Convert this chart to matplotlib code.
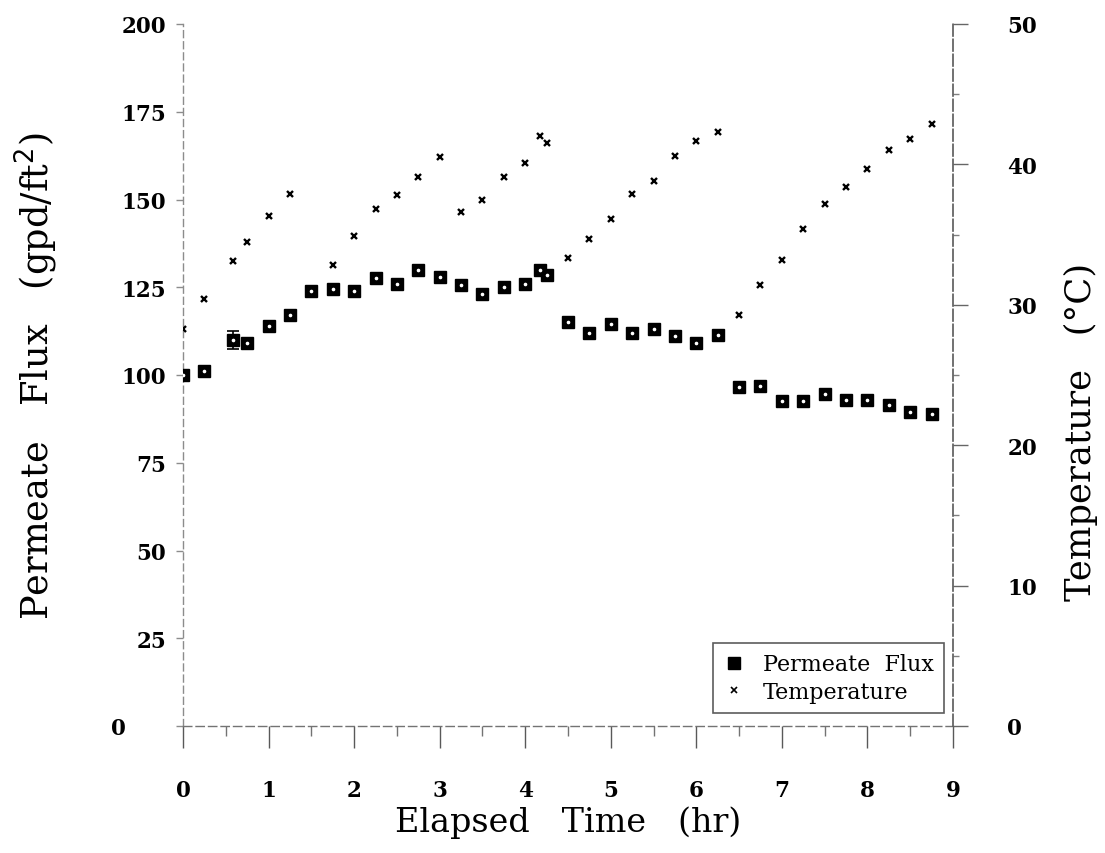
import matplotlib
matplotlib.use("Agg")
import matplotlib.pyplot as plt
from matplotlib.ticker import MultipleLocator
from matplotlib.lines import Line2D
from matplotlib.transforms import ScaledTranslation

# ---- data ----
flux_time = [0, 0.25, 0.58, 0.75, 1.0, 1.25, 1.5, 1.75, 2.0, 2.25, 2.5, 2.75, 3.0,
             3.25, 3.5, 3.75, 4.0, 4.17, 4.25, 4.5, 4.75, 5.0, 5.25, 5.5, 5.75, 6.0,
             6.25, 6.5, 6.75, 7.0, 7.25, 7.5, 7.75, 8.0, 8.25, 8.5, 8.75]
flux = [100, 101, 110, 109, 114, 117, 124, 124.5, 124, 127.5, 126, 130, 128,
        125.5, 123, 125, 126, 130, 128.5, 115, 112, 114.5, 112, 113, 111, 109,
        111.5, 96.5, 97, 92.5, 92.5, 94.5, 93, 93, 91.5, 89.5, 89]
flux_err = [0, 0, 2.5, 0, 0, 0, 0, 0, 0, 0, 0, 0, 0,
            1.2, 0, 0, 0, 0, 0, 0, 0, 0, 0, 0, 0, 0,
            0, 0, 0, 0, 0, 0, 0, 0, 0, 0, 0]

temp_time = [0, 0.25, 0.58, 0.75, 1.0, 1.25, 1.75, 2.0, 2.25, 2.5, 2.75, 3.0,
             3.25, 3.5, 3.75, 4.0, 4.17, 4.25, 4.5, 4.75, 5.0, 5.25, 5.5, 5.75,
             6.0, 6.25, 6.5, 6.75, 7.0, 7.25, 7.5, 7.75, 8.0, 8.25, 8.5, 8.75]
temp = [28.3, 30.4, 33.1, 34.5, 36.3, 37.9, 32.8, 34.9, 36.8, 37.8, 39.1, 40.5,
        36.6, 37.5, 39.1, 40.1, 42.0, 41.5, 33.3, 34.7, 36.1, 37.9, 38.8, 40.6,
        41.7, 42.3, 29.3, 31.4, 33.2, 35.4, 37.2, 38.4, 39.7, 41.0, 41.8, 42.9]

x_ticks = [0, 1, 2, 3, 4, 5, 6, 7, 8, 9]
flux_ticks = [0, 25, 50, 75, 100, 125, 150, 175, 200]
temp_ticks = [0, 10, 20, 30, 40, 50]

SERIF = ["DejaVu Serif"]
plt.rcParams['font.family'] = SERIF

fig = plt.figure(figsize=(11.05, 8.54), dpi=100)
ax = fig.add_axes([183/1105, 1-727/854, 770/1105, 702/854])
ax2 = ax.twinx()
ax2.set_position(ax.get_position())

# flux series
nz = [(t, f, e) for t, f, e in zip(flux_time, flux, flux_err) if e > 0]
ax.errorbar([a[0] for a in nz], [a[1] for a in nz], yerr=[a[2] for a in nz],
            fmt='none', ecolor='black', elinewidth=1.2, capsize=4, capthick=1.2, zorder=3)
ax.plot(flux_time, flux, linestyle='none', marker='s', markersize=9,
        markerfacecolor='black', markeredgecolor='black', zorder=4)
ax.plot(flux_time, flux, linestyle='none', marker='o', markersize=1.6,
        markerfacecolor='white', markeredgecolor='white', zorder=5)

# temperature series
ax2.plot(temp_time, temp, linestyle='none', marker='x', markersize=5,
         markeredgewidth=1.7, color='black', zorder=4)

ax.set_xlim(0, 9)
ax.set_ylim(0, 200)
ax2.set_ylim(0, 50)

ax.set_xticks(x_ticks)
ax.xaxis.set_minor_locator(MultipleLocator(0.5))
ax.set_yticks(flux_ticks)
ax2.set_yticks(temp_ticks)
ax2.yaxis.set_minor_locator(MultipleLocator(5))

for lab in ax.get_xticklabels() + ax.get_yticklabels() + ax2.get_yticklabels():
    lab.set_fontfamily(SERIF)
    lab.set_fontsize(15.5)
    lab.set_fontweight('bold')

ax.tick_params(axis='x', which='major', direction='out', length=16, width=1.0,
               color='0.35', pad=22)
ax.tick_params(axis='x', which='minor', direction='out', length=7, width=1.0,
               color='0.45')
ax.tick_params(axis='y', which='major', direction='out', length=5, width=1.0,
               color='0.55', pad=7)
ax2.tick_params(axis='y', which='major', direction='out', length=11, width=1.0,
                color='0.4', pad=28)
ax2.tick_params(axis='y', which='minor', direction='out', length=4, width=1.0,
                color='0.5')

# the "0" flux label sits further left in the original
zero_tick = ax.yaxis.get_major_ticks()[0]
zero_tick.label1.set_transform(zero_tick.label1.get_transform()
                               + ScaledTranslation(-0.40, 0, fig.dpi_scale_trans))

for a in (ax, ax2):
    a.spines['top'].set_visible(False)
    a.spines['left'].set_visible(a is ax)
    a.spines['right'].set_visible(a is ax2)
    a.spines['bottom'].set_visible(a is ax)
ax.spines['left'].set_color('0.55')
ax.spines['left'].set_linestyle((0, (5, 3)))
ax.spines['left'].set_linewidth(1.0)
ax.spines['bottom'].set_color('0.45')
ax.spines['bottom'].set_linestyle((0, (6, 3)))
ax.spines['bottom'].set_linewidth(1.0)
ax2.spines['right'].set_color('0.35')
ax2.spines['right'].set_linestyle((0, (7, 2)))
ax2.spines['right'].set_linewidth(1.2)

ax.set_xlabel('Elapsed   Time   (hr)', fontsize=24, family=SERIF)
ax.xaxis.set_label_coords(0.5, (727-806)/702)
ax.set_ylabel('Permeate   Flux   (gpd/ft$^2$)', fontsize=26.5, family=SERIF)
ax.yaxis.set_label_coords((60-183)/770, 0.5)
ax2.set_ylabel('Temperature   (°C)', fontsize=25.5, family=SERIF)
ax2.yaxis.set_label_coords((1064-183)/770, 0.42)

handles = [
    Line2D([], [], linestyle='none', marker='s', markersize=8, color='black'),
    Line2D([], [], linestyle='none', marker='x', markersize=5, markeredgewidth=1.2, color='black'),
]
leg = ax.legend(handles, ['Permeate  Flux', 'Temperature'],
                loc='lower right', bbox_to_anchor=(944/1105, 1-714/854),
                bbox_transform=fig.transFigure, frameon=True, fancybox=False,
                prop=dict(family=SERIF, size=16), handletextpad=0.8,
                borderpad=0.45, labelspacing=0.25, handlelength=1.0,
                borderaxespad=0)
leg.get_frame().set_edgecolor('0.2')
leg.get_frame().set_linewidth(1.2)
leg.set_zorder(10)

fig.savefig('out.png', dpi=100)
